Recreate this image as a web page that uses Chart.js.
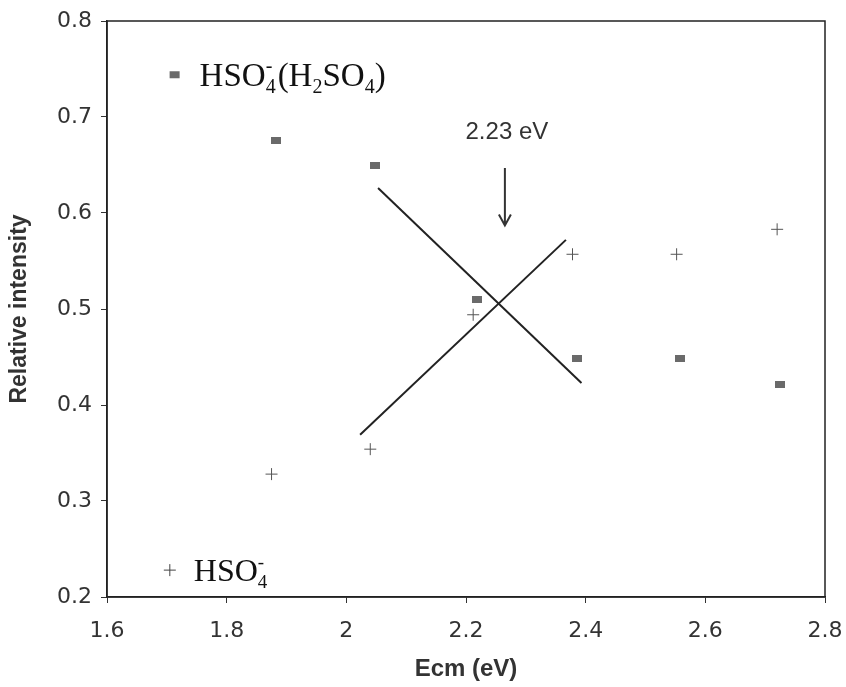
<!DOCTYPE html>
<html lang="en">
  <head>
    <meta charset="UTF-8" />
    <title>Relative intensity vs Ecm</title>
    <script src="https://cdn.jsdelivr.net/npm/chart.js"></script>
    <style>
      body {
        margin: 0;
        background: #fff;
      }
      .chart-box {
        position: relative;
        width: 846px;
        height: 687px;
      }
    </style>
  </head>
  <body>
    <div class="chart-box">
      <canvas id="ecmChart"></canvas>
    </div>

    <script>
      // HSO4-(H2SO4) points (squares)
      const clusterX = [1.883, 2.048, 2.218, 2.385, 2.557, 2.725];
      const clusterY = [0.676, 0.65, 0.51, 0.448, 0.448, 0.421];
      // HSO4- points (pluses)
      const anionX = [1.875, 2.04, 2.212, 2.378, 2.552, 2.72];
      const anionY = [0.328, 0.354, 0.494, 0.557, 0.557, 0.583];
      // hand-drawn fit lines
      const fitDownX = [2.053, 2.393];
      const fitDownY = [0.626, 0.423];
      const fitUpX = [2.023, 2.367];
      const fitUpY = [0.369, 0.572];
      // crossing marker
      const crossLabel = "2.23 eV";
      const arrowX = 2.265;
      const arrowY = [0.647, 0.587];

      const pts = (xs, ys) => xs.map((x, i) => ({ x: x, y: ys[i] }));

      // small grey bar used as the square marker
      const bar = document.createElement("canvas");
      bar.width = 10;
      bar.height = 7;
      const bctx = bar.getContext("2d");
      bctx.fillStyle = "#6a6a6a";
      bctx.fillRect(0, 0, 10, 7);

      const serif = "'Liberation Serif', 'Times New Roman', serif";
      const sans = "'Liberation Sans', Arial, sans-serif";

      // writes a formula made of [text, "n" | "sub" | "sup"] pieces
      function drawFormula(ctx, parts, x, y, size) {
        ctx.textBaseline = "alphabetic";
        ctx.textAlign = "left";
        let cx = x;
        let lastSub = 0;
        parts.forEach(([t, kind]) => {
          if (kind === "n") {
            ctx.font = size + "px " + serif;
            ctx.fillText(t, cx, y);
            cx += ctx.measureText(t).width;
            lastSub = 0;
          } else {
            const s = Math.round(size * 0.6);
            ctx.font = s + "px " + serif;
            const w = ctx.measureText(t).width;
            if (kind === "sub") {
              ctx.fillText(t, cx, y + size * 0.22);
              cx += w;
              lastSub = w;
            } else {
              ctx.fillText(t, cx - lastSub, y - size * 0.42);
              cx += Math.max(0, w - lastSub) + 2;
            }
          }
        });
      }

      const extras = {
        id: "extras",
        afterDatasetsDraw(chart) {
          const { ctx, chartArea: a, scales } = chart;
          const xs = scales.x;
          const ys = scales.y;
          ctx.save();

          // frame
          ctx.strokeStyle = "#222";
          ctx.lineWidth = 1.5;
          ctx.strokeRect(a.left, a.top, a.right - a.left, a.bottom - a.top);

          // arrow + label
          const ax = xs.getPixelForValue(arrowX);
          const y0 = ys.getPixelForValue(arrowY[0]);
          const y1 = ys.getPixelForValue(arrowY[1]);
          ctx.strokeStyle = "#333";
          ctx.lineWidth = 2;
          ctx.beginPath();
          ctx.moveTo(ax, y0);
          ctx.lineTo(ax, y1);
          ctx.moveTo(ax - 6, y1 - 11);
          ctx.lineTo(ax, y1);
          ctx.lineTo(ax + 6, y1 - 11);
          ctx.stroke();
          ctx.fillStyle = "#333";
          ctx.font = "24px " + sans;
          ctx.textAlign = "center";
          ctx.textBaseline = "middle";
          ctx.fillText(crossLabel, ax + 2, y0 - 36);

          // legend entries
          const l1x = xs.getPixelForValue(1.713);
          const l1y = ys.getPixelForValue(0.744);
          ctx.fillStyle = "#6a6a6a";
          ctx.fillRect(l1x - 5, l1y - 3.5, 10, 7);
          ctx.fillStyle = "#111";
          drawFormula(
            ctx,
            [["HSO", "n"], ["4", "sub"], ["-", "sup"], ["(H", "n"], ["2", "sub"], ["SO", "n"], ["4", "sub"], [")", "n"]],
            l1x + 25,
            l1y + 11,
            33
          );

          const l2x = xs.getPixelForValue(1.705);
          const l2y = ys.getPixelForValue(0.228);
          ctx.strokeStyle = "#444";
          ctx.lineWidth = 1;
          ctx.beginPath();
          ctx.moveTo(l2x - 6, l2y);
          ctx.lineTo(l2x + 6, l2y);
          ctx.moveTo(l2x, l2y - 6);
          ctx.lineTo(l2x, l2y + 6);
          ctx.stroke();
          drawFormula(ctx, [["HSO", "n"], ["4", "sub"], ["-", "sup"]], l2x + 24, l2y + 11, 32);

          ctx.restore();
        },
      };

      const tickFont = { family: "'DejaVu Sans', sans-serif", size: 22 };

      new Chart(document.getElementById("ecmChart"), {
        type: "scatter",
        data: {
          datasets: [
            {
              label: "HSO4-(H2SO4)",
              data: pts(clusterX, clusterY),
              pointStyle: bar,
              backgroundColor: "#6a6a6a",
            },
            {
              label: "HSO4-",
              data: pts(anionX, anionY),
              pointStyle: "cross",
              pointRadius: 6,
              borderColor: "#555",
              borderWidth: 1,
            },
            {
              label: "fit down",
              data: pts(fitDownX, fitDownY),
              showLine: true,
              pointRadius: 0,
              borderColor: "#222",
              borderWidth: 2,
            },
            {
              label: "fit up",
              data: pts(fitUpX, fitUpY),
              showLine: true,
              pointRadius: 0,
              borderColor: "#222",
              borderWidth: 2,
            },
          ],
        },
        options: {
          responsive: true,
          maintainAspectRatio: false,
          animation: false,
          layout: { padding: { top: 21, right: 21, left: 0, bottom: 0 } },
          plugins: {
            legend: { display: false },
            tooltip: { enabled: false },
          },
          scales: {
            x: {
              type: "linear",
              min: 1.6,
              max: 2.8,
              ticks: {
                stepSize: 0.2,
                color: "#333",
                font: tickFont,
                padding: 15,
                callback: (v) => String(+v.toFixed(1)),
              },
              grid: { drawOnChartArea: false, tickLength: 6, color: "#333" },
              border: { color: "#222", width: 1.5 },
              title: {
                display: true,
                text: "Ecm (eV)",
                color: "#333",
                font: { family: sans, size: 24, weight: "bold" },
                padding: { top: 4, bottom: 3 },
              },
              afterFit: (s) => {
                s.height = 90;
                s.paddingLeft = 0;
                s.paddingRight = 0;
              },
            },
            y: {
              min: 0.2,
              max: 0.8,
              ticks: {
                stepSize: 0.1,
                color: "#333",
                font: tickFont,
                padding: 9,
                callback: (v) => v.toFixed(1),
              },
              grid: { drawOnChartArea: false, tickLength: 6, color: "#333" },
              border: { color: "#222", width: 1.5 },
              title: {
                display: true,
                text: "Relative intensity",
                color: "#333",
                font: { family: sans, size: 23, weight: "bold" },
                padding: { top: 6, bottom: 4 },
              },
              afterFit: (s) => {
                s.width = 107;
                s.paddingTop = 0;
                s.paddingBottom = 0;
              },
            },
          },
        },
        plugins: [extras],
      });
    </script>
  </body>
</html>
